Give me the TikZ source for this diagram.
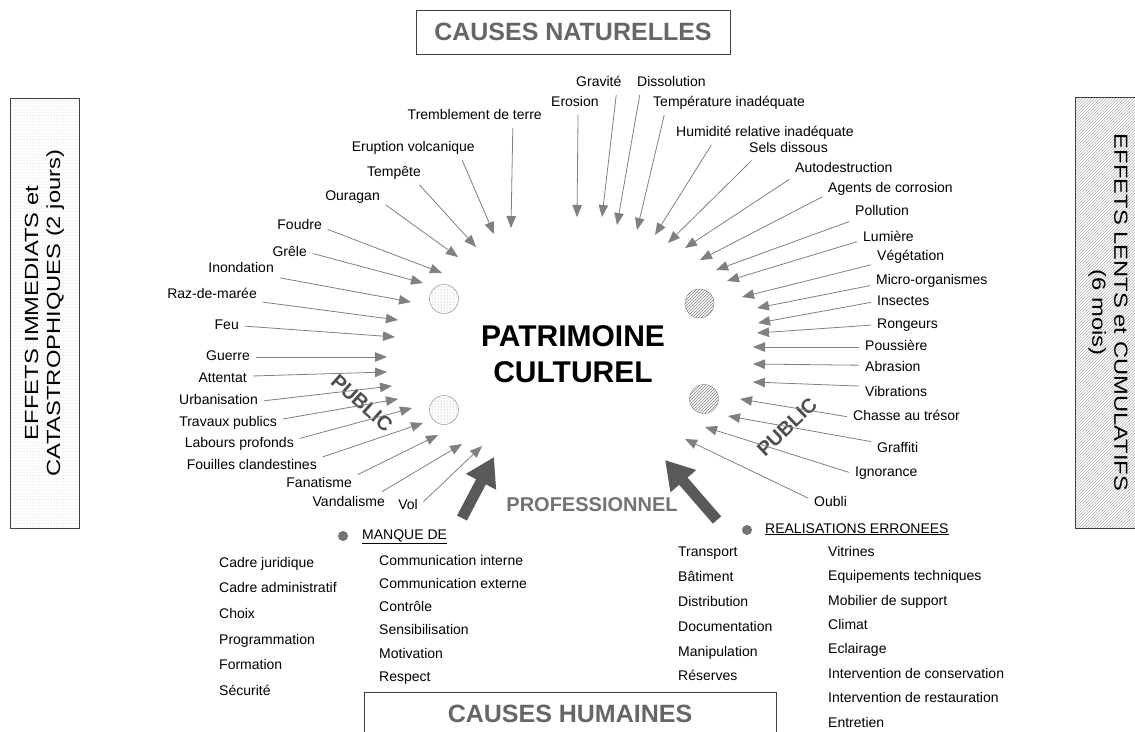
\documentclass[tikz,border=0pt]{standalone}
\usepackage{fontspec}
\setmainfont{Liberation Sans}
\newfontfamily\etire[FakeStretch=1.25]{Liberation Sans}
\usetikzlibrary{arrows.meta}
\usetikzlibrary{patterns}

\tikzset{
  etiquette/.style={font=\fontsize{14}{16}\selectfont, inner sep=4pt, text height=9pt, text depth=3pt},
  gauche/.style={etiquette, anchor=east},
  droite/.style={etiquette, anchor=west},
  fleche/.style={draw=gray, line width=0.8pt, -{Triangle[length=12pt,width=9.5pt]}, shorten <=2pt},
  grossefleche/.style={draw=black!65, line width=11pt, -{Triangle[length=28pt,width=32pt]}},
  entete/.style={draw=black!75, line width=0.8pt, fill=white, text=black!60, font=\bfseries\fontsize{25}{25}\selectfont},
  cote/.style={draw=black!75, line width=0.8pt, align=center, font=\etire\fontsize{19}{22}\selectfont},
  boule/.style={circle, draw=gray, minimum size=29pt, inner sep=0pt},
  public/.style={text=black!70, font=\bfseries\fontsize{20}{20}\selectfont},
  puce/.style={circle, fill=black!55, minimum size=10pt, inner sep=0pt},
  liste/.style={anchor=north west, inner sep=0pt, align=left},
}

\begin{document}
\begin{tikzpicture}[x=1pt,y=-1pt]
\useasboundingbox (0,0) rectangle (1135,731);
\clip (0,0) rectangle (1135,731);
\fill[white] (0,0) rectangle (1135,731);

% cadres
\node[entete, minimum width=314pt, minimum height=44pt] (naturelles) at (573,32) {CAUSES NATURELLES};
\node[entete, minimum width=412pt, minimum height=44pt] (humaines) at (570,714) {CAUSES HUMAINES};
\node[cote, pattern=dots, pattern color=gray!45, rotate=90, minimum width=430pt, minimum height=69pt] (immediats) at (44.5,313) {EFFETS IMMEDIATS et\\CATASTROPHIQUES (2 jours)};
\node[cote, pattern=north east lines, pattern color=gray!60, rotate=-90, minimum width=431pt, minimum height=66pt] (lents) at (1108,312.5) {EFFETS LENTS et CUMULATIFS\\(6 mois)};

% centre
\node[font=\bfseries\fontsize{30}{36}\selectfont, align=center] (patrimoine) at (573,354) {PATRIMOINE\\CULTUREL};
\node[text=black!55, font=\bfseries\fontsize{20}{20}\selectfont] (professionnel) at (592,505) {PROFESSIONNEL};
\node[public, rotate=-42] (public-g) at (362,403) {PUBLIC};
\node[public, rotate=44] (public-d) at (787,427) {PUBLIC};

\node[boule, pattern=dots, pattern color=gray!80] (boule-hg) at (444,299) {};
\node[boule, pattern=dots, pattern color=gray!80] (boule-bg) at (444,410) {};
\node[boule, pattern=north east lines, pattern color=gray] (boule-hd) at (699.5,303.5) {};
\node[boule, pattern=north east lines, pattern color=gray] (boule-bd) at (704,399) {};

% causes a gauche
\node[gauche] (tremblement) at (546,116) {Tremblement de terre};
\node[gauche] (eruption) at (479,148) {Eruption volcanique};
\node[gauche] (tempete) at (425,173) {Tempête};
\node[gauche] (ouragan) at (384,197) {Ouragan};
\node[gauche] (foudre) at (326,226) {Foudre};
\node[gauche] (grele) at (311,253) {Grêle};
\node[gauche] (inondation) at (278,269) {Inondation};
\node[gauche] (razdemaree) at (261,295) {Raz-de-marée};
\node[gauche] (feu) at (243,326) {Feu};
\node[gauche] (guerre) at (254,357) {Guerre};
\node[gauche] (attentat) at (251,379) {Attentat};
\node[gauche] (urbanisation) at (262,401) {Urbanisation};
\node[gauche] (travaux) at (281,423) {Travaux publics};
\node[gauche] (labours) at (298,444) {Labours profonds};
\node[gauche] (fouilles) at (321,466) {Fouilles clandestines};
\node[gauche] (fanatisme) at (356,484) {Fanatisme};
\node[gauche] (vandalisme) at (389,503) {Vandalisme};
\node[gauche] (vol) at (422,506) {Vol};

% causes a droite
\node[droite] (erosion) at (547,103) {Erosion};
\node[droite] (gravite) at (572,83) {Gravité};
\node[droite] (dissolution) at (633,83) {Dissolution};
\node[droite] (temperature) at (649,103) {Température inadéquate};
\node[droite] (humidite) at (672,133) {Humidité relative inadéquate};
\node[droite] (sels) at (745,149) {Sels dissous};
\node[droite] (autodestruction) at (791,169) {Autodestruction};
\node[droite] (agents) at (824,189) {Agents de corrosion};
\node[droite] (pollution) at (851,212) {Pollution};
\node[droite] (lumiere) at (859,238) {Lumière};
\node[droite] (vegetation) at (873,257) {Végétation};
\node[droite] (micro) at (872,281) {Micro-organismes};
\node[droite] (insectes) at (873,302) {Insectes};
\node[droite] (rongeurs) at (873,325) {Rongeurs};
\node[droite] (poussiere) at (861,347) {Poussière};
\node[droite] (abrasion) at (861,368) {Abrasion};
\node[droite] (vibrations) at (861,393) {Vibrations};
\node[droite] (chasse) at (849,417) {Chasse au trésor};
\node[droite] (graffiti) at (873,449) {Graffiti};
\node[droite] (ignorance) at (851,473) {Ignorance};
\node[droite] (oubli) at (810,503) {Oubli};

% pointes
\coordinate (tremblement-p) at (511,228);
\coordinate (eruption-p) at (494,234);
\coordinate (tempete-p) at (476,247);
\coordinate (ouragan-p) at (458,257);
\coordinate (foudre-p) at (442,273);
\coordinate (grele-p) at (423,283);
\coordinate (inondation-p) at (411,302);
\coordinate (razdemaree-p) at (398,320);
\coordinate (feu-p) at (395,337);
\coordinate (guerre-p) at (387,357);
\coordinate (attentat-p) at (387,372);
\coordinate (urbanisation-p) at (392,386);
\coordinate (travaux-p) at (398,399);
\coordinate (labours-p) at (412,408);
\coordinate (fouilles-p) at (423,423);
\coordinate (fanatisme-p) at (438,435);
\coordinate (vandalisme-p) at (462,444);
\coordinate (vol-p) at (482,446);
\coordinate (erosion-p) at (577,217);
\coordinate (gravite-p) at (602,217);
\coordinate (dissolution-p) at (617,225);
\coordinate (temperature-p) at (637,230);
\coordinate (humidite-p) at (655,235);
\coordinate (sels-p) at (668,243);
\coordinate (autodestruction-p) at (685,248);
\coordinate (agents-p) at (700,260);
\coordinate (pollution-p) at (716,270);
\coordinate (lumiere-p) at (727,281);
\coordinate (vegetation-p) at (742,297);
\coordinate (micro-p) at (757,308);
\coordinate (insectes-p) at (758,323);
\coordinate (rongeurs-p) at (757,333);
\coordinate (poussiere-p) at (753,347);
\coordinate (abrasion-p) at (753,364);
\coordinate (vibrations-p) at (753,382);
\coordinate (chasse-p) at (740,399);
\coordinate (graffiti-p) at (728,416);
\coordinate (ignorance-p) at (705,427);
\coordinate (oubli-p) at (685,439);

\draw[fleche] (tremblement.-15) -- (tremblement-p);
\draw[fleche] (eruption.-12) -- (eruption-p);
\draw[fleche] (tempete.-23) -- (tempete-p);
\draw[fleche] (ouragan.-12) -- (ouragan-p);
\draw[fleche] (foudre.-6) -- (foudre-p);
\draw[fleche] (grele.east) -- (grele-p);
\draw[fleche] (inondation.-13) -- (inondation-p);
\draw[fleche] (razdemaree.-8) -- (razdemaree-p);
\draw[fleche] (feu.east) -- (feu-p);
\draw[fleche] (guerre.east) -- (guerre-p);
\draw[fleche] (attentat.6) -- (attentat-p);
\draw[fleche] (urbanisation.east) -- (urbanisation-p);
\draw[fleche] (travaux.4) -- (travaux-p);
\draw[fleche] (labours.5) -- (labours-p);
\draw[fleche] (fouilles.7) -- (fouilles-p);
\draw[fleche] (fanatisme.13) -- (fanatisme-p);
\draw[fleche] (vandalisme.18) -- (vandalisme-p);
\draw[fleche] (vol.12) -- (vol-p);
\draw[fleche] (erosion.-73) -- (erosion-p);
\draw[fleche] (gravite.-30) -- (gravite-p);
\draw[fleche] (dissolution.-162) -- (dissolution-p);
\draw[fleche] (temperature.-171) -- (temperature-p);
\draw[fleche] (humidite.-169) -- (humidite-p);
\draw[fleche] (sels.-164) -- (sels-p);
\draw[fleche] (autodestruction.-170) -- (autodestruction-p);
\draw[fleche] (agents.-174) -- (agents-p);
\draw[fleche] (pollution.-164) -- (pollution-p);
\draw[fleche] (lumiere.-174) -- (lumiere-p);
\draw[fleche] (vegetation.-169) -- (vegetation-p);
\draw[fleche] (micro.-176) -- (micro-p);
\draw[fleche] (insectes.west) -- (insectes-p);
\draw[fleche] (rongeurs.west) -- (rongeurs-p);
\draw[fleche] (poussiere.west) -- (poussiere-p);
\draw[fleche] (abrasion.175) -- (abrasion-p);
\draw[fleche] (vibrations.169) -- (vibrations-p);
\draw[fleche] (chasse.west) -- (chasse-p);
\draw[fleche] (graffiti.164) -- (graffiti-p);
\draw[fleche] (ignorance.west) -- (ignorance-p);
\draw[fleche] (oubli.169) -- (oubli-p);

% fleches du professionnel
\coordinate (pro-g-q) at (462,518);
\coordinate (pro-g-p) at (494,457);
\coordinate (pro-d-q) at (717,520);
\coordinate (pro-d-p) at (665,460);
\draw[grossefleche] (pro-g-q) -- (pro-g-p);
\draw[grossefleche] (pro-d-q) -- (pro-d-p);

% causes humaines
\node[puce] (puce-m) at (343,536) {};
\node[droite] (manque) at (358,536) {\underline{MANQUE DE}};
\node[puce] (puce-r) at (747,530) {};
\node[droite] (realisations) at (761,530) {\underline{REALISATIONS ERRONEES}};
\node[liste, font=\fontsize{14}{25.6}\selectfont] (manque-g) at (219,557) {Cadre juridique\\Cadre administratif\\Choix\\Programmation\\Formation\\Sécurité};
\node[liste, font=\fontsize{14}{23.2}\selectfont] (manque-d) at (379,555) {Communication interne\\Communication externe\\Contrôle\\Sensibilisation\\Motivation\\Respect};
\node[liste, font=\fontsize{14}{24.8}\selectfont] (realisations-g) at (678,547) {Transport\\Bâtiment\\Distribution\\Documentation\\Manipulation\\Réserves};
\node[liste, font=\fontsize{14}{24.4}\selectfont] (realisations-d) at (828,546) {Vitrines\\Equipements techniques\\Mobilier de support\\Climat\\Eclairage\\Intervention de conservation\\Intervention de restauration\\Entretien};
\end{tikzpicture}
\end{document}
